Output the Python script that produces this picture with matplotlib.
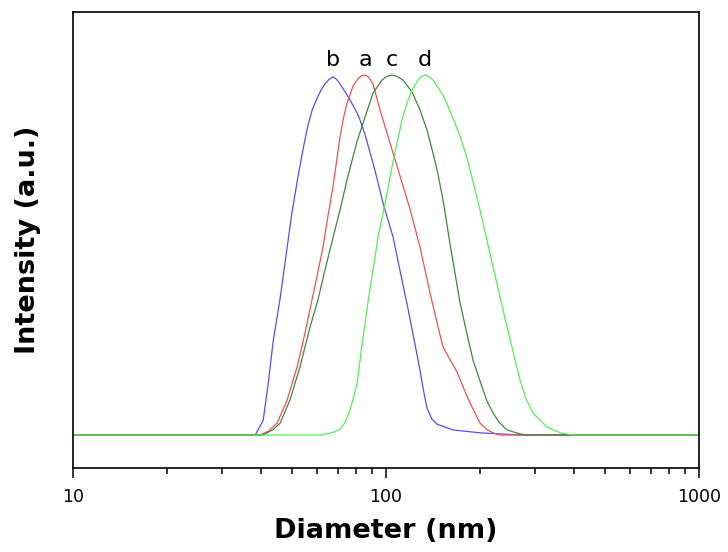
import matplotlib
matplotlib.use("Agg")
import matplotlib.pyplot as plt
from matplotlib.ticker import LogLocator, NullFormatter, FixedLocator, FixedFormatter

# Size distributions (intensity, normalised) for samples a-d
diam_b = [10, 38.2, 40.5, 42.0, 43.6, 45.9, 48.3, 50.1, 52.4, 54.5, 56.3, 58.2, 60.2, 62.0,
          63.8, 65.8, 67.7, 69.5, 71.3, 75.1, 78.5, 80.8, 82.6, 85.7, 88.9, 92.2, 97.8,
          105.3, 112.5, 117.6, 122.0, 128.4, 132.0, 135.2, 140.0, 145.5, 163.7, 199.7, 268, 1000]
int_b = [0, 0, 0.04, 0.14, 0.26, 0.38, 0.52, 0.62, 0.72, 0.80, 0.86, 0.905, 0.935, 0.958,
         0.975, 0.988, 0.995, 0.988, 0.975, 0.945, 0.915, 0.895, 0.875, 0.835, 0.785, 0.735,
         0.645, 0.55, 0.43, 0.35, 0.28, 0.18, 0.12, 0.075, 0.045, 0.03, 0.014, 0.006, 0, 0]

diam_a = [10, 39.5, 42.0, 44.9, 48.3, 52.0, 55.1, 58.0, 60.5, 62.9, 65.3, 67.7, 71.3,
          72.9, 75.1, 78.5, 81.5, 83.5, 85.7, 88.0, 90.9, 95.7, 100.7, 105.3, 110.8, 119.3,
          128.4, 138.2, 146.6, 152.1, 160.0, 168.6, 177.0, 185.5, 199.7, 210, 219.8, 231, 1000]
int_a = [0, 0, 0.01, 0.033, 0.097, 0.189, 0.283, 0.375, 0.45, 0.522, 0.61, 0.689, 0.828,
         0.875, 0.922, 0.97, 0.99, 0.998, 1.0, 0.994, 0.975, 0.903, 0.839, 0.783, 0.72, 0.628,
         0.522, 0.395, 0.30, 0.245, 0.21, 0.175, 0.13, 0.089, 0.033, 0.015, 0.006, 0, 0]

diam_c = [10, 40.5, 43.6, 45.9, 49.35, 53.1, 57.2, 60.6, 63.5, 66.2, 71.3, 75.6, 80.8,
          85.7, 90.9, 97.1, 100.5, 104.5, 108.5, 113.3, 121.1, 128.4, 135.2, 141.3, 146.6,
          153.0, 160.2, 172.4, 181.5, 189.7, 199.7, 210, 219.8, 230, 243.6, 268, 280, 1000]
int_c = [0, 0, 0.015, 0.033, 0.097, 0.189, 0.30, 0.375, 0.45, 0.514, 0.625, 0.72, 0.815,
         0.883, 0.95, 0.986, 0.996, 1.0, 0.996, 0.986, 0.953, 0.903, 0.847, 0.783, 0.725,
         0.64, 0.53, 0.367, 0.28, 0.208, 0.15, 0.095, 0.061, 0.035, 0.014, 0.003, 0, 0]

diam_d = [10, 62.0, 64.8, 68.0, 71.3, 74.0, 76.7, 78.5, 80.8, 84.4, 87.6, 90.2, 94.3,
          99.3, 104.5, 108.4, 112.5, 116.7, 121.1, 126.5, 129.8, 133.2, 137.0, 141.3, 146.6,
          153.0, 163.7, 172.4, 181.5, 199.7, 219.8, 243.6, 267.9, 280, 294.9, 327, 359.7,
          395.8, 1000]
int_d = [0, 0, 0.003, 0.008, 0.016, 0.035, 0.069, 0.10, 0.144, 0.27, 0.37, 0.439, 0.55,
         0.644, 0.744, 0.811, 0.875, 0.922, 0.958, 0.986, 0.996, 1.0, 0.996, 0.986, 0.965,
         0.94, 0.88, 0.83, 0.77, 0.625, 0.467, 0.30, 0.153, 0.10, 0.061, 0.022, 0.006,
         0, 0]

labels = ["b", "a", "c", "d"]
x_ticks = [10, 100, 1000]
x_tick_labels = ["10", "100", "1000"]

series = [
    (diam_b, int_b, "#5050f2"),
    (diam_a, int_a, "#f25050"),
    (diam_c, int_c, "#3f873f"),
    (diam_d, int_d, "#55ee55"),
]

fig = plt.figure(figsize=(7.28, 5.52), dpi=100)
ax = fig.add_axes([73 / 728, 84 / 552, 626 / 728, 456 / 552])

for (xd, yd, col), lab in zip(series, labels):
    ax.plot(xd, yd, color=col, lw=0.9, solid_joinstyle="round")
    peak = max(range(len(yd)), key=lambda i: yd[i])
    ax.text(xd[peak], 1.025, lab, ha="center", va="baseline",
            fontsize=16, family="DejaVu Sans", color="black")

ax.set_xscale("log")
ax.set_xlim(10, 1000)
ax.set_ylim(-0.0917, 1.175)

ax.xaxis.set_major_locator(FixedLocator(x_ticks))
ax.xaxis.set_major_formatter(FixedFormatter(x_tick_labels))
ax.xaxis.set_minor_locator(LogLocator(base=10, subs=range(2, 10)))
ax.xaxis.set_minor_formatter(NullFormatter())
ax.tick_params(axis="x", which="major", direction="out", length=7.2, width=1.1,
               labelsize=12.5, pad=7, top=False)
ax.tick_params(axis="x", which="minor", direction="out", length=4.3, width=1.1, top=False)
ax.tick_params(axis="y", which="both", left=False, right=False, labelleft=False)

for sp in ax.spines.values():
    sp.set_linewidth(1.2)

ax.set_xlabel("Diameter (nm)", fontsize=19.5, fontweight="bold", labelpad=9)
ax.set_ylabel("Intensity (a.u.)", fontsize=19.5, fontweight="bold", labelpad=23)

fig.savefig("out.png", dpi=100)
